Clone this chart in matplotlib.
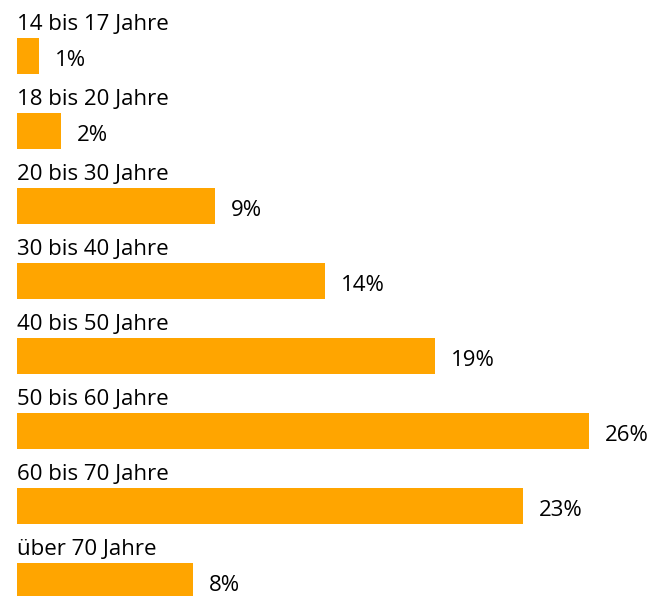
import matplotlib.pyplot as plt

categories = ['14 bis 17 Jahre', '18 bis 20 Jahre', '20 bis 30 Jahre',
              '30 bis 40 Jahre', '40 bis 50 Jahre', '50 bis 60 Jahre',
              '60 bis 70 Jahre', 'über 70 Jahre']
values = [1, 2, 9, 14, 19, 26, 23, 8]
labels = ['1%', '2%', '9%', '14%', '19%', '26%', '23%', '8%']


def main():
    plt.rcParams['font.family'] = ['Open Sans', 'DejaVu Sans']

    fig = plt.figure(figsize=(6.55, 5.96), dpi=100)
    ax = fig.add_axes([0, 0, 1, 1])

    pos = list(range(len(values)))
    ax.barh(pos, values, height=0.48, color='#FFA500', left=0)

    for i, (cat, v, lab) in enumerate(zip(categories, values, labels)):
        ax.text(-0.02, i - 0.35, cat, fontsize=16, va='baseline', ha='left',
                color='black')
        ax.text(v + 0.72, i + 0.06, lab, fontsize=16, va='center',
                ha='left', color='black')

    # map data units to the pixel layout of the original
    ax.set_xlim(-17 / 22, (655 - 17) / 22)
    ax.set_ylim((596 - 56) / 75, -56 / 75)
    ax.axis('off')

    plt.savefig('out.png', dpi=100)


if __name__ == '__main__':
    main()
